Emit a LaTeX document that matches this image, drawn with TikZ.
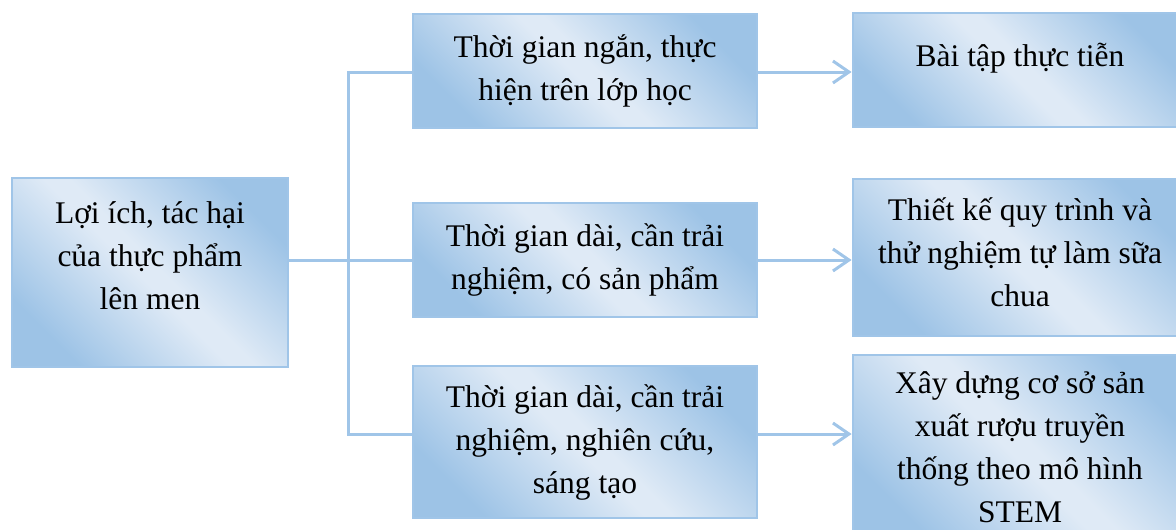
\documentclass[tikz,border=0pt]{standalone}
\usepackage{fontspec}
\setmainfont{Liberation Serif}
\usetikzlibrary{arrows.meta}
\definecolor{boxdark}{RGB}{157,195,230}
\definecolor{boxlight}{RGB}{223,234,246}
\definecolor{linkblue}{RGB}{160,197,232}
% light blue along one diagonal, darker towards the two other corners
\pgfdeclareverticalshading{cardshade}{100bp}{%
  color(0bp)=(boxdark); color(25bp)=(boxdark);
  color(48bp)=(boxlight); color(52bp)=(boxlight);
  color(75bp)=(boxdark); color(100bp)=(boxdark)}
\tikzset{
  card/.style={draw=linkblue, line width=2.8pt,
    shade, shading=cardshade, shading angle=-45,
    inner sep=0pt, align=center,
    font=\fontsize{31.5}{43}\selectfont},
  link/.style={draw=linkblue, line width=3pt},
  flow/.style={link, -{Straight Barb[length=16pt,width=22pt]}}
}
\begin{document}
\begin{tikzpicture}[x=1pt, y=-1pt]
\useasboundingbox (0,0) rectangle (1176,530);
\clip (0,0) rectangle (1176,530);

% root topic
\node[card, minimum width=276pt, minimum height=189pt, text depth=34pt] (root) at (150,272.5)
  {Lợi ích, tác hại\\của thực phẩm\\lên men};

% ways of carrying it out
\node[card, minimum width=344pt, minimum height=114pt] (m1) at (585,71)
  {Thời gian ngắn, thực\\hiện trên lớp học};
\node[card, minimum width=344pt, minimum height=114pt] (m2) at (585,260)
  {Thời gian dài, cần trải\\nghiệm, có sản phẩm};
\node[card, minimum width=344pt, minimum height=152pt] (m3) at (585,442)
  {Thời gian dài, cần trải\\nghiệm, nghiên cứu,\\sáng tạo};

% resulting activities
\node[card, minimum width=334pt, minimum height=114pt, text depth=31pt] (r1) at (1020,70)
  {Bài tập thực tiễn};
\node[card, minimum width=334pt, minimum height=157pt, text depth=10pt] (r2) at (1020,257.5)
  {Thiết kế quy trình và\\thử nghiệm tự làm sữa\\chua};
\node[card, minimum width=334pt, minimum height=184pt] (r3) at (1020,447)
  {Xây dựng cơ sở sản\\xuất rượu truyền\\thống theo mô hình\\STEM};

% branching bus
\coordinate (bustop) at (348,72);
\coordinate (busbot) at (348,434);
\draw[link] (root.east |- m2.west) -- (m2.west);
\draw[link] (bustop -| m1.west) -- (bustop) -- (busbot) -- (busbot -| m3.west);

% arrows to the activities
\draw[flow] (m1.east |- bustop) -- (r1.west |- bustop);
\draw[flow] (m2.east) -- (r2.west |- m2.east);
\draw[flow] (m3.east |- busbot) -- (r3.west |- busbot);
\end{tikzpicture}
\end{document}
